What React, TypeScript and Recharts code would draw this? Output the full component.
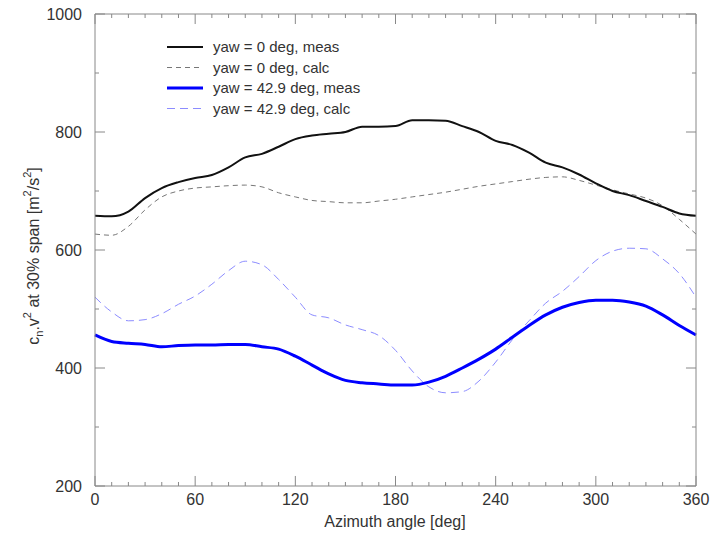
import React from "react"
import { LineChart, Line, XAxis, YAxis, ReferenceLine } from "recharts"

const angles = [0, 10, 20, 30, 40, 50, 60, 70, 80, 90, 100, 110, 120, 130, 140, 150, 160, 170, 180, 190, 200, 210, 220, 230, 240, 250, 260, 270, 280, 290, 300, 310, 320, 330, 340, 350, 360]

const yaw0Meas = [658, 657, 665, 688, 705, 715, 722, 727, 740, 757, 763, 775, 788, 794, 797, 800, 809, 809, 810, 820, 820, 819, 810, 800, 785, 778, 765, 748, 740, 728, 713, 700, 693, 683, 673, 662, 658]
const yaw0Calc = [627, 625, 640, 668, 690, 700, 705, 707, 709, 710, 707, 697, 690, 684, 682, 680, 680, 683, 686, 690, 694, 698, 703, 708, 712, 716, 720, 723, 724, 718, 710, 702, 695, 688, 675, 652, 627]
const yaw43Meas = [456, 445, 442, 440, 436, 438, 439, 439, 440, 440, 436, 432, 420, 405, 390, 379, 375, 373, 371, 371, 376, 386, 400, 415, 432, 452, 472, 490, 503, 511, 515, 515, 512, 505, 490, 472, 456]
const yaw43Calc = [520, 495, 480, 482, 492, 508, 522, 542, 565, 581, 575, 550, 520, 490, 485, 473, 465, 455, 430, 395, 368, 358, 360, 378, 410, 448, 480, 510, 530, 555, 582, 598, 603, 602, 585, 560, 520]

const xTicks = [0, 10, 20, 30, 40, 50, 60, 70, 80, 90, 100, 110, 120, 130, 140, 150, 160, 170, 180, 190, 200, 210, 220, 230, 240, 250, 260, 270, 280, 290, 300, 310, 320, 330, 340, 350, 360]
const yTicks = [200, 300, 400, 500, 600, 700, 800, 900, 1000]

const data = angles.map((a, i) => ({
  angle: a,
  m0: yaw0Meas[i],
  c0: yaw0Calc[i],
  m43: yaw43Meas[i],
  c43: yaw43Calc[i],
}))

const FONT = "'Liberation Sans', Arial, sans-serif"
const TXT = "#333"
const FRAME = "#888"

// inward tick lengths, in data units (about 10px major, 4px minor)
const X_MAJ = 17, X_MIN = 6.8 // along y
const Y_MAJ = 6, Y_MIN = 2.4 // along x

const BottomTick = (props: any) => {
  const { x, y, payload } = props
  if (payload.value % 60 !== 0) return <g />
  return (
    <text x={x} y={y + 19} textAnchor="middle" fontSize={16} fill={TXT} fontFamily={FONT}>
      {payload.value}
    </text>
  )
}

const LeftTick = (props: any) => {
  const { x, y, payload } = props
  if (payload.value % 200 !== 0) return <g />
  return (
    <text x={x - 13} y={y + 6} textAnchor="end" fontSize={16} fill={TXT} fontFamily={FONT}>
      {payload.value}
    </text>
  )
}

const legendItems = [
  { label: "yaw = 0 deg, meas", color: "#111", width: 2, dash: undefined },
  { label: "yaw = 0 deg, calc", color: "#777", width: 1, dash: "5 4" },
  { label: "yaw = 42.9 deg, meas", color: "#0000ff", width: 3, dash: undefined },
  { label: "yaw = 42.9 deg, calc", color: "#8c8cff", width: 1, dash: "8 5" },
]

export default function App() {
  const xTickMarks = xTicks.flatMap((a) => {
    const len = a % 60 === 0 ? X_MAJ : X_MIN
    return [
      <ReferenceLine key={"b" + a} segment={[{ x: a, y: 200 }, { x: a, y: 200 + len }]} stroke={FRAME} />,
      <ReferenceLine key={"t" + a} segment={[{ x: a, y: 1000 }, { x: a, y: 1000 - len }]} stroke={FRAME} />,
    ]
  })
  const yTickMarks = yTicks.flatMap((v) => {
    const len = v % 200 === 0 ? Y_MAJ : Y_MIN
    return [
      <ReferenceLine key={"l" + v} segment={[{ x: 0, y: v }, { x: len, y: v }]} stroke={FRAME} />,
      <ReferenceLine key={"r" + v} segment={[{ x: 360, y: v }, { x: 360 - len, y: v }]} stroke={FRAME} />,
    ]
  })

  return (
    <div style={{ position: "absolute", left: 0, top: 0, background: "#fff" }}>
      <LineChart width={710} height={535} data={data} margin={{ top: 13, right: 13, left: 0, bottom: 0 }}>
        <XAxis
          dataKey="angle"
          type="number"
          domain={[0, 360]}
          ticks={xTicks}
          interval={0}
          tickSize={0}
          tickMargin={0}
          tickLine={false}
          tick={<BottomTick />}
          axisLine={{ stroke: FRAME }}
          height={49}
        />
        <XAxis
          xAxisId="top"
          orientation="top"
          dataKey="angle"
          type="number"
          domain={[0, 360]}
          tick={false}
          tickLine={false}
          axisLine={{ stroke: FRAME }}
          height={1}
        />
        <YAxis
          type="number"
          domain={[200, 1000]}
          ticks={yTicks}
          interval={0}
          tickSize={0}
          tickMargin={0}
          tickLine={false}
          tick={<LeftTick />}
          axisLine={{ stroke: FRAME }}
          width={95}
        />
        <YAxis
          yAxisId="right"
          orientation="right"
          type="number"
          domain={[200, 1000]}
          tick={false}
          tickLine={false}
          axisLine={{ stroke: FRAME }}
          width={1}
        />
        {xTickMarks}
        {yTickMarks}
        <Line dataKey="c43" type="monotone" stroke="#8c8cff" strokeWidth={1} strokeDasharray="8 5" dot={false} isAnimationActive={false} />
        <Line dataKey="c0" type="monotone" stroke="#777" strokeWidth={1} strokeDasharray="5 4" dot={false} isAnimationActive={false} />
        <Line dataKey="m43" type="monotone" stroke="#0000ff" strokeWidth={3} dot={false} isAnimationActive={false} />
        <Line dataKey="m0" type="monotone" stroke="#111" strokeWidth={2} dot={false} isAnimationActive={false} />
        <g>
          {legendItems.map((it, i) => (
            <g key={it.label}>
              <line x1={167} x2={203} y1={47 + i * 20.5} y2={47 + i * 20.5} stroke={it.color} strokeWidth={it.width} strokeDasharray={it.dash} />
              <text x={213} y={52 + i * 20.5} fontSize={15} fill={TXT} fontFamily={FONT}>
                {it.label}
              </text>
            </g>
          ))}
        </g>
        <text x={395} y={527} textAnchor="middle" fontSize={16} fill={TXT} fontFamily={FONT}>
          Azimuth angle [deg]
        </text>
        <text transform="translate(39,256) rotate(-90)" textAnchor="middle" fontSize={16} fill={TXT} fontFamily={FONT}>
          c
          <tspan fontSize={11} dy={4}>n</tspan>
          <tspan dy={-4}>.v</tspan>
          <tspan fontSize={11} dy={-8}>2</tspan>
          <tspan dy={8}> at 30% span [m</tspan>
          <tspan fontSize={11} dy={-8}>2</tspan>
          <tspan dy={8}>/s</tspan>
          <tspan fontSize={11} dy={-8}>2</tspan>
          <tspan dy={8}>]</tspan>
        </text>
      </LineChart>
    </div>
  )
}
